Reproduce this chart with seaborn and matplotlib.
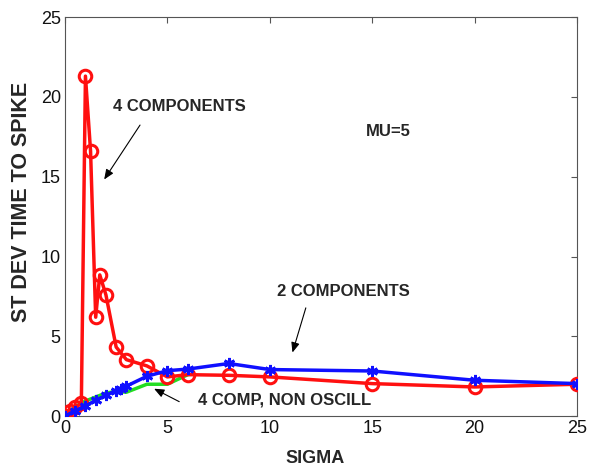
import matplotlib
matplotlib.use("Agg")
import matplotlib.pyplot as plt
import seaborn as sns
import pandas as pd

# Data
red_x = [0, 0.25, 0.5, 0.8, 1.0, 1.25, 1.5, 1.7, 2.0, 2.5, 3.0, 4.0, 5.0, 6.0, 8.0, 10.0, 15.0, 20.0, 25.0]
red_y = [0, 0.3, 0.55, 0.8, 21.3, 16.6, 6.2, 8.85, 7.6, 4.33, 3.54, 3.15, 2.46, 2.6, 2.56, 2.46, 2.04, 1.83, 2.0]

blue_x = [0, 0.5, 1.0, 1.5, 2.0, 2.5, 2.75, 3.0, 4.0, 5.0, 6.0, 8.0, 10.0, 15.0, 20.0, 25.0]
blue_y = [0, 0.35, 0.63, 1.0, 1.3, 1.6, 1.73, 1.88, 2.5, 2.85, 2.95, 3.3, 2.92, 2.83, 2.25, 2.04]

green_x = [0, 0.5, 1.0, 1.5, 2.0, 2.5, 3.0, 4.0, 5.0, 6.0]
green_y = [0, 0.6, 0.95, 1.2, 1.45, 1.55, 1.5, 2.0, 2.0, 2.6]

x_ticks = [0, 5, 10, 15, 20, 25]
y_ticks = [0, 5, 10, 15, 20, 25]

sns.set_style("white")
plt.rcParams['font.family'] = ['Liberation Sans', 'DejaVu Sans']

fig = plt.figure(figsize=(5.96, 4.74), dpi=100)
ax = fig.add_axes([0.109, 0.122, 0.859, 0.842])

df_g = pd.DataFrame({"x": green_x, "y": green_y})
df_r = pd.DataFrame({"x": red_x, "y": red_y})
df_b = pd.DataFrame({"x": blue_x, "y": blue_y})

sns.lineplot(data=df_g, x="x", y="y", ax=ax, color="#22dd22", lw=2.5,
             estimator=None, sort=False, zorder=2)
sns.lineplot(data=df_r, x="x", y="y", ax=ax, color="#ff1010", lw=2.5,
             marker="o", markersize=9, markerfacecolor="none",
             markeredgecolor="#ff1010", markeredgewidth=2.2,
             estimator=None, sort=False, zorder=3)
sns.lineplot(data=df_b, x="x", y="y", ax=ax, color="#1010ff", lw=2.5,
             marker=(6, 2, 0), markersize=8, markeredgecolor="#1010ff",
             markeredgewidth=2.0,
             estimator=None, sort=False, zorder=4)

ax.set_xlim(0, 25)
ax.set_ylim(0, 25)
ax.set_xticks(x_ticks)
ax.set_yticks(y_ticks)
ax.set_xticklabels([str(t) for t in x_ticks], fontsize=13)
ax.set_yticklabels([str(t) for t in y_ticks], fontsize=13)
ax.tick_params(direction="in", top=True, right=True, length=4, width=0.8,
               color="#555555", labelcolor="#111111", pad=3)
for s in ax.spines.values():
    s.set_visible(True)
    s.set_color("#555555")
    s.set_linewidth(0.8)

ax.set_xlabel("SIGMA", fontsize=13, fontweight="bold")
ax.set_ylabel("ST DEV TIME TO SPIKE", fontsize=15.5, fontweight="bold")
ax.xaxis.set_label_coords(0.488, -0.085)
ax.yaxis.set_label_coords(-0.0645, 0.536)

tkw = dict(fontsize=12, fontweight="bold", va="center", ha="left")
ax.text(2.34, 19.4, "4 COMPONENTS", **tkw)
ax.text(14.7, 17.86, "MU=5", **tkw)
ax.text(10.34, 7.79, "2 COMPONENTS", **tkw)
ax.text(6.5, 1.0, "4 COMP, NON OSCILL", **tkw)

akw = dict(arrowstyle="-|>,head_length=0.6,head_width=0.25", color="black", lw=0.8)
ax.annotate("", xy=(1.84, 14.68), xytext=(3.74, 18.38), arrowprops=akw)
ax.annotate("", xy=(11.07, 3.82), xytext=(11.8, 6.95), arrowprops=akw)
ax.annotate("", xy=(4.23, 1.8), xytext=(5.7, 0.83), arrowprops=akw)

fig.savefig("out.png", dpi=100)
